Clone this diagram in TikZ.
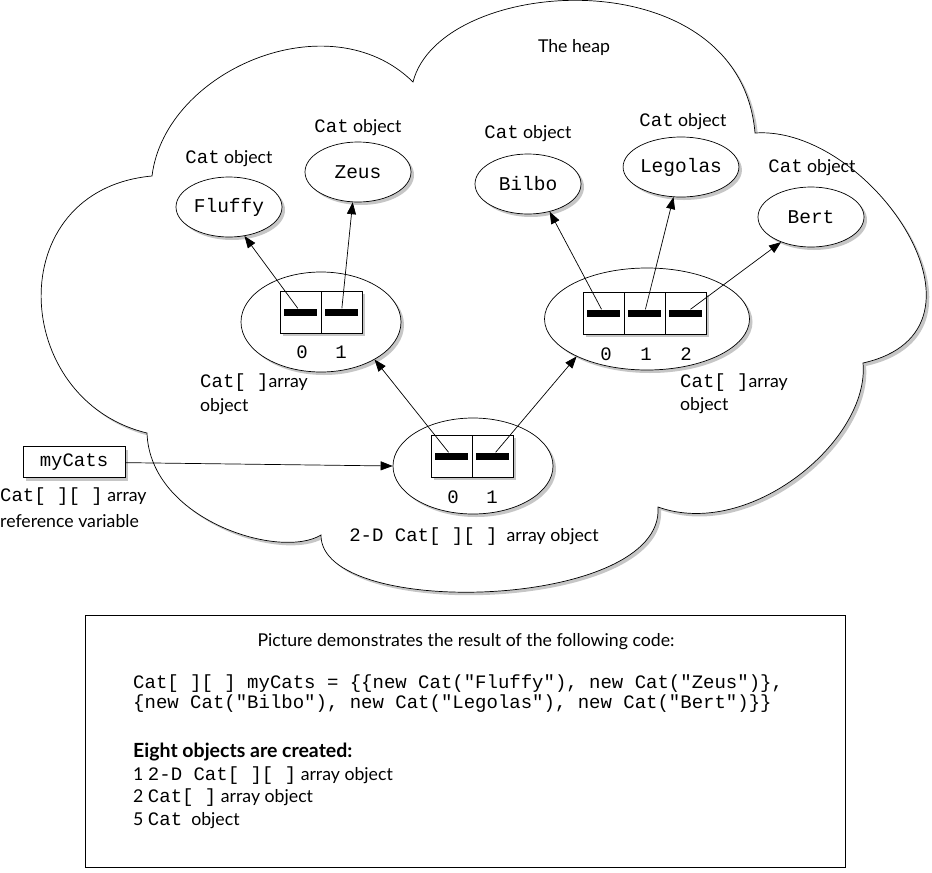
\documentclass[tikz,border=0pt]{standalone}
\usepackage{fontspec}
\setmainfont{Lato}
\newfontfamily\monofont{Liberation Mono}
\usetikzlibrary{arrows.meta,shadows,shapes.geometric}
\begin{document}
\begin{tikzpicture}[x=1pt,y=-1pt,
  shadowed/.style={drop shadow={shadow xshift=3pt,shadow yshift=-3pt,fill=gray!45,opacity=1}},
  lbl/.style={inner sep=0pt,font=\fontsize{17.7}{20}\selectfont},
  mlbl/.style={inner sep=0pt,font=\monofont\fontsize{19}{20}\selectfont},
  catobj/.style={ellipse,draw,line width=0.7pt,fill=white,minimum width=106pt,minimum height=60pt,inner sep=0pt,font=\monofont\fontsize{19.5}{20}\selectfont,shadowed},
  arrobj/.style={ellipse,draw,line width=0.7pt,fill=white,inner sep=0pt,shadowed},
  cell/.style={rectangle,draw,line width=0.7pt,fill=white,minimum width=41pt,minimum height=42pt,inner sep=0pt,shadowed},
  bar/.style={rectangle,fill=black,minimum width=33pt,minimum height=7pt,inner sep=0pt},
  arr/.style={-{Triangle[length=12pt,width=9pt]},line width=0.7pt},
]
\newcommand\mt[1]{{\monofont\fontsize{19}{20}\selectfont #1}}
\useasboundingbox (0,0) rectangle (932,873);

% cloud (the heap)
\def\cloudpath{(152,176) .. controls (165,70) and (330,0) .. (413,82)
  .. controls (440,-25) and (740,-45) .. (755,133)
  .. controls (870,125) and (1010,330) .. (863,363)
  .. controls (870,440) and (750,540) .. (658,507)
  .. controls (665,610) and (320,620) .. (321,535)
  .. controls (280,560) and (150,520) .. (147,433)
  .. controls (10,400) and (0,190) .. (152,176) -- cycle}
\fill[gray!45,xshift=3pt,yshift=-3pt] \cloudpath;
\draw[line width=0.7pt,fill=white] \cloudpath;

\node[lbl] (heap) at (574,47) {The heap};

% Cat objects
\node[catobj] (fluffy) at (229,207) {Fluffy};
\node[catobj] (zeus) at (358,172) {Zeus};
\node[catobj] (bilbo) at (528,184) {Bilbo};
\node[catobj] (legolas) at (681,167) {Legolas};
\node[catobj] (bert) at (811,217) {Bert};

\node[lbl] (lfluffy) at (229,159) {\mt{Cat} object};
\node[lbl] (lzeus) at (358,128) {\mt{Cat} object};
\node[lbl] (lbilbo) at (528,134) {\mt{Cat} object};
\node[lbl] (llegolas) at (683,122) {\mt{Cat} object};
\node[lbl] (lbert) at (812,168) {\mt{Cat} object};

% array objects
\node[arrobj,minimum width=160pt,minimum height=100pt] (leftarr) at (321,322) {};
\node[arrobj,minimum width=205pt,minimum height=102pt] (rightarr) at (647,319) {};
\node[arrobj,minimum width=160pt,minimum height=96pt] (botarr) at (473,466) {};

\node[cell] (l0) at (300.5,312) {};
\node[cell] (l1) at (341.5,312) {};
\node[cell] (r0) at (603.5,313) {};
\node[cell] (r1) at (644.5,313) {};
\node[cell] (r2) at (685.5,313) {};
\node[cell] (b0) at (451.5,456) {};
\node[cell] (b1) at (492.5,456) {};

\node[bar] (l0b) at (l0) {};
\node[bar] (l1b) at (l1) {};
\node[bar] (r0b) at (r0) {};
\node[bar] (r1b) at (r1) {};
\node[bar] (r2b) at (r2) {};
\node[bar] (b0b) at (b0) {};
\node[bar] (b1b) at (b1) {};

\node[mlbl] (il0) at (302,352) {0};
\node[mlbl] (il1) at (341,352) {1};
\node[mlbl] (ir0) at (606,354) {0};
\node[mlbl] (ir1) at (646,354) {1};
\node[mlbl] (ir2) at (686,354) {2};
\node[mlbl] (ib0) at (453,497) {0};
\node[mlbl] (ib1) at (492,497) {1};

\node[lbl,anchor=west] (la1) at (200,383) {\mt{Cat[ ]}array};
\node[lbl,anchor=west] (la2) at (200,407) {object};
\node[lbl,anchor=west] (ra1) at (680,383) {\mt{Cat[ ]}array};
\node[lbl,anchor=west] (ra2) at (680,406) {object};
\node[lbl] (ba) at (474,537) {\mt{2-D Cat[ ][ ]} \ array object};

% reference variable
\node[rectangle,draw,line width=0.7pt,fill=white,minimum width=102pt,minimum height=31pt,inner sep=0pt,shadowed,font=\monofont\fontsize{19}{20}\selectfont] (mycats) at (74,462) {myCats};
\node[lbl,anchor=west] (mc1) at (0,497) {\mt{Cat[ ][ ]} array};
\node[lbl,anchor=west] (mc2) at (0,521) {reference variable};

% connectors
\draw[arr] (mycats) -- (botarr.west);
\draw[arr] (b0b) -- (leftarr.-35);
\draw[arr] (b1b) -- (rightarr.-152);
\draw[arr] (l0b) -- (fluffy.-62);
\draw[arr] (l1b) -- (zeus.-100);
\draw[arr] (r0b) -- (bilbo.-52);
\draw[arr] (r1b) -- (legolas.-104);
\draw[arr] (r2b) -- (bert.-140);

% explanation box
\node[draw,line width=0.7pt,minimum width=760pt,minimum height=252pt,inner sep=0pt] (frame) at (465,741) {};
\node[lbl] (title) at (466,642) {Picture demonstrates the result of the following code:};
\node[mlbl,anchor=west] (code1) at (133,684) {Cat[ ][ ] myCats = \{\{new Cat("Fluffy"), new Cat("Zeus")\},};
\node[mlbl,anchor=west] (code2) at (133,704) {\{new Cat("Bilbo"), new Cat("Legolas"), new Cat("Bert")\}\}};
\node[lbl,anchor=west,font=\bfseries\fontsize{19.5}{20}\selectfont] (eight) at (133,752) {Eight objects are created:};
\node[lbl,anchor=west] (it1) at (133,776) {1 \mt{2-D Cat[ ][ ]} array object};
\node[lbl,anchor=west] (it2) at (133,798) {2 \mt{Cat[ ]} array object};
\node[lbl,anchor=west] (it3) at (133,821) {5 \mt{Cat} \ object};
\end{tikzpicture}
\end{document}
